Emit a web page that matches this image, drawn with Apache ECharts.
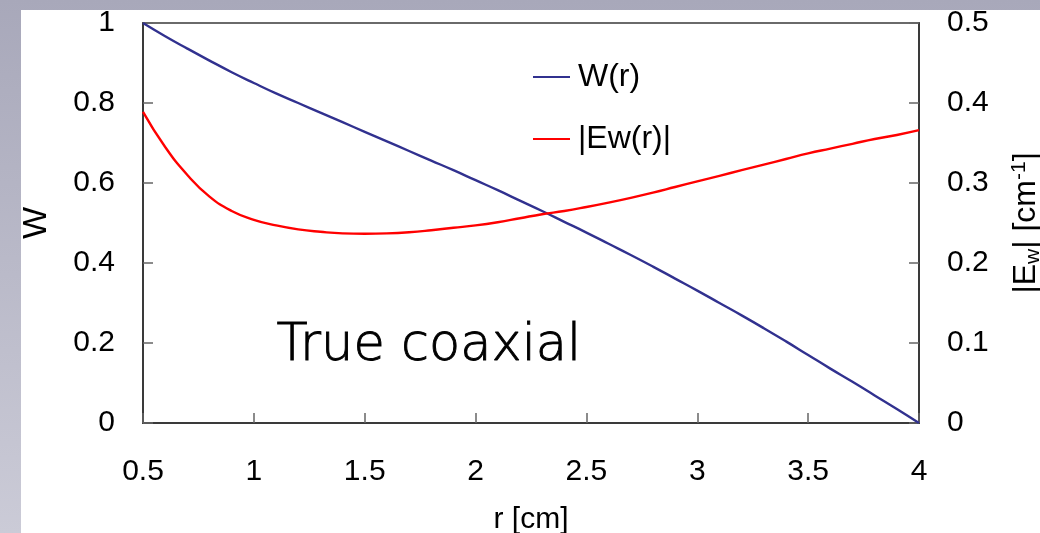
<!DOCTYPE html>
<html>
<head>
<meta charset="utf-8">
<script src="https://cdn.jsdelivr.net/npm/echarts@6/dist/echarts.min.js"></script>
<style>
html,body{margin:0;padding:0;}
#chart{width:1040px;height:533px;}
</style>
</head>
<body>
<div id="chart"></div>
<script>
// Data
const rValues = [0.5, 0.6, 0.7, 0.8, 0.9, 1.0, 1.1, 1.2, 1.3, 1.4, 1.5, 1.6, 1.7, 1.8, 1.9, 2.0, 2.1, 2.2, 2.3, 2.4, 2.5, 2.6, 2.7, 2.8, 2.9, 3.0, 3.1, 3.2, 3.3, 3.4, 3.5, 3.6, 3.7, 3.8, 3.9, 4.0];
const wValues = [1.0, 0.967, 0.936, 0.906, 0.877, 0.850, 0.824, 0.800, 0.776, 0.752, 0.728, 0.704, 0.680, 0.656, 0.632, 0.607, 0.582, 0.556, 0.530, 0.503, 0.476, 0.448, 0.420, 0.391, 0.361, 0.331, 0.300, 0.269, 0.237, 0.204, 0.170, 0.136, 0.103, 0.069, 0.035, 0.0];
const ewValues = [0.389, 0.345, 0.310, 0.283, 0.265, 0.254, 0.247, 0.242, 0.239, 0.237, 0.2365, 0.237, 0.2385, 0.241, 0.244, 0.247, 0.251, 0.256, 0.261, 0.265, 0.270, 0.2755, 0.2815, 0.288, 0.295, 0.302, 0.309, 0.316, 0.323, 0.330, 0.337, 0.343, 0.349, 0.355, 0.360, 0.366];
const xTicks = [0.5, 1, 1.5, 2, 2.5, 3, 3.5, 4];
const wTicks = [0, 0.2, 0.4, 0.6, 0.8, 1];
const ewTicks = [0, 0.1, 0.2, 0.3, 0.4, 0.5];
const seriesNames = ['W(r)', '|Ew(r)|'];
const annotation = 'True coaxial';

const chart = echarts.init(document.getElementById('chart'));
const font = '"Liberation Sans", Arial, sans-serif';
const axisLineStyle = {color: '#3a3a3a', width: 2};
const tickStyle = {color: '#666', width: 1.5};

const option = {
  backgroundColor: {
    type: 'linear', x: 0, y: 0, x2: 0, y2: 1,
    colorStops: [{offset: 0, color: '#a8a8ba'}, {offset: 1, color: '#cbcbd7'}]
  },
  animation: false,
  graphic: [
    {type: 'rect', z: -100, shape: {x: 21, y: 10, width: 1019, height: 523}, style: {fill: '#ffffff'}, silent: true},
    {type: 'text', left: 276, top: 321, z: 10,
     style: {text: annotation, font: '200 51px "DejaVu Sans", sans-serif', fill: '#000', stroke: '#000', lineWidth: 0.9}}
  ],
  grid: {left: 143, right: 121, top: 23, bottom: 110, outerBoundsMode: 'none', containLabel: false,
         show: true, borderColor: '#3a3a3a', borderWidth: 1.5, backgroundColor: 'transparent'},
  legend: {
    orient: 'vertical', left: 533, top: 61, padding: 0,
    icon: 'rect', itemWidth: 37, itemHeight: 2, itemGap: 30,
    textStyle: {fontFamily: font, fontSize: 32, color: '#000', padding: [0, 0, 0, 3]},
    data: seriesNames
  },
  xAxis: {
    type: 'value', min: xTicks[0], max: xTicks[xTicks.length - 1], interval: 0.5,
    name: 'r [cm]', nameLocation: 'middle', nameGap: 82,
    nameTextStyle: {fontFamily: font, fontSize: 30, color: '#000'},
    axisLine: {lineStyle: axisLineStyle},
    axisTick: {inside: true, length: 10, lineStyle: tickStyle},
    axisLabel: {fontFamily: font, fontSize: 30, color: '#000', margin: 34, formatter: v => String(v)},
    splitLine: {show: false}
  },
  yAxis: [
    {
      type: 'value', min: wTicks[0], max: wTicks[wTicks.length - 1], interval: 0.2, position: 'left',
      name: 'W', nameLocation: 'middle', nameGap: 89, nameRotate: 90,
      nameTextStyle: {fontFamily: font, fontSize: 34, color: '#000'},
      axisLine: {show: true, lineStyle: axisLineStyle},
      axisTick: {show: true, inside: true, length: 10, lineStyle: tickStyle},
      axisLabel: {fontFamily: font, fontSize: 30, color: '#000', margin: 28, formatter: v => String(+v.toFixed(1))},
      splitLine: {show: false}
    },
    {
      type: 'value', min: ewTicks[0], max: ewTicks[ewTicks.length - 1], interval: 0.1, position: 'right',
      name: '|E{sub|w}| [cm{sup|-1}]', nameLocation: 'middle', nameGap: 90, nameRotate: 90,
      nameTextStyle: {
        fontFamily: font, fontSize: 32, color: '#000',
        rich: {
          sub: {fontFamily: font, fontSize: 21, color: '#000', verticalAlign: 'bottom', padding: [12, 0, 0, 0]},
          sup: {fontFamily: font, fontSize: 21, color: '#000', verticalAlign: 'top', padding: [0, 0, 14, 0]}
        }
      },
      axisLine: {show: true, lineStyle: axisLineStyle},
      axisTick: {show: true, inside: true, length: 10, lineStyle: tickStyle},
      axisLabel: {fontFamily: font, fontSize: 30, color: '#000', margin: 28, formatter: v => String(+v.toFixed(1))},
      splitLine: {show: false}
    }
  ],
  series: [
    {
      name: seriesNames[0], type: 'line', yAxisIndex: 0, smooth: true, showSymbol: false,
      lineStyle: {color: '#31318f', width: 2.4}, itemStyle: {color: '#31318f'},
      data: rValues.map((r, i) => [r, wValues[i]])
    },
    {
      name: seriesNames[1], type: 'line', yAxisIndex: 1, smooth: true, showSymbol: false,
      lineStyle: {color: '#ff0000', width: 2.4}, itemStyle: {color: '#ff0000'},
      data: rValues.map((r, i) => [r, ewValues[i]])
    }
  ]
};
chart.setOption(option);
</script>
</body>
</html>
